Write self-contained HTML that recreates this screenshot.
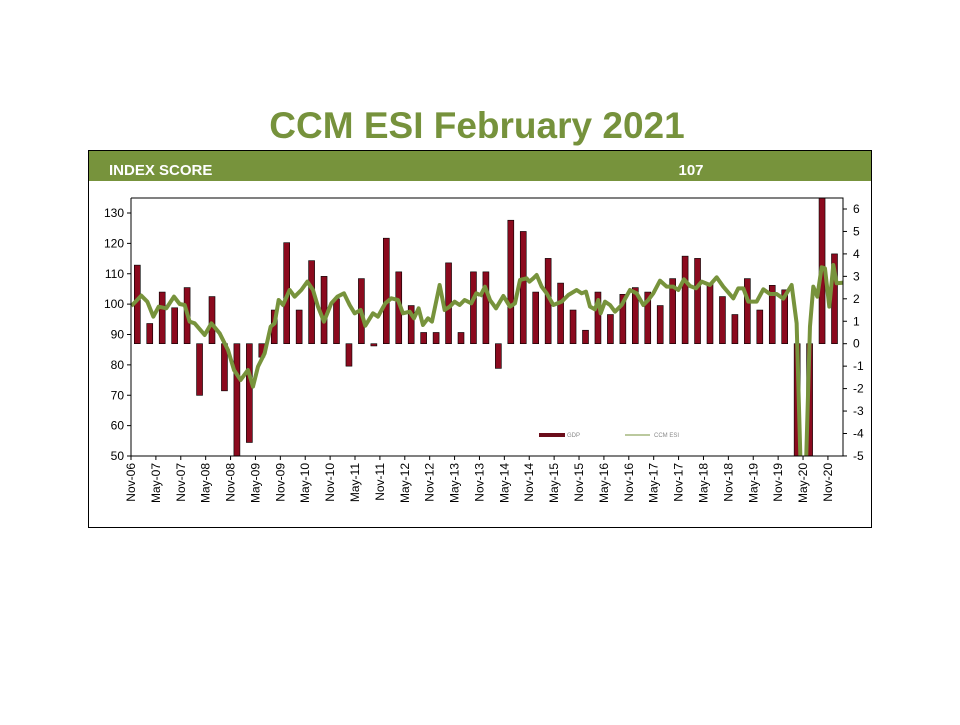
<!DOCTYPE html>
<html><head><meta charset="utf-8"><style>
body{margin:0;background:#fff;width:960px;height:720px;overflow:hidden;font-family:"Liberation Sans",sans-serif}
</style></head><body>
<svg id="s" width="960" height="720" xmlns="http://www.w3.org/2000/svg" font-family="Liberation Sans, sans-serif">
<text x="477" y="138" text-anchor="middle" font-size="37" font-weight="bold" fill="#76923c">CCM ESI February 2021</text>
<rect x="88" y="150" width="784" height="31" fill="#77933c"/>
<rect x="88.5" y="150.5" width="783" height="377" fill="none" stroke="#000" stroke-width="1"/>
<text x="109" y="175" font-size="15" font-weight="bold" fill="#fff">INDEX SCORE</text>
<text x="691" y="175" font-size="15" font-weight="bold" fill="#fff" text-anchor="middle">107</text>
<defs><clipPath id="cp"><rect x="131" y="198" width="712" height="258"/></clipPath></defs>
<g id="bars" clip-path="url(#cp)"></g>
<g clip-path="url(#cp)" fill="none" stroke="#77933c" stroke-width="4" stroke-linejoin="round">
<polyline vector-effect="non-scaling-stroke" transform="translate(88,150) scale(0.3333)" points="130,468 160,437 178,455 196,500 212,470 235,475 258,440 275,462 290,465 305,515 320,520 350,555 370,520 395,550 420,600 438,660 458,690 480,660 495,710 510,650 530,610 548,530 560,520 572,450 585,465 605,420 620,440 640,420 658,395 675,420 690,470 708,515 730,460 748,440 768,430 785,465 800,490 818,480 832,527 855,490 870,500 892,460 910,445 930,450 945,490 965,485 978,505 992,475 1005,525 1020,505 1032,515 1055,405 1070,480 1085,470 1100,455 1115,465 1130,450 1150,460 1165,430 1176,435"/>
<polyline vector-effect="non-scaling-stroke" transform="translate(480,150) scale(0.3333)" points="0,440 15,410 30,450 48,475 70,438 90,470 105,460 120,390 140,385 148,395 160,385 170,375 185,410 200,430 220,465 245,455 265,435 290,420 305,430 318,425 330,470 345,478 355,450 362,490 375,455 390,465 405,485 425,465 450,420 470,430 490,465 505,450 520,430 540,392 560,410 580,410 595,420 612,388 630,408 648,415 665,395 690,405 710,382 730,410 760,445 775,415 790,415 805,455 830,455 850,418 870,432 890,432 910,446 935,405 950,520 962,950 978,950 990,530 1000,410 1012,440 1025,352 1035,355 1048,470 1060,345 1070,400 1090,398"/>
</g>
<g id="ax" font-size="12" fill="#000"></g>
<rect x="539" y="433" width="26" height="4" fill="#6b0d1a"/>
<text x="567" y="437" font-size="6" fill="#888">GDP</text>
<line x1="625" y1="435" x2="650" y2="435" stroke="#77933c" stroke-width="1"/>
<text x="654" y="437" font-size="6" fill="#888">CCM ESI</text>
</svg>
<script>
var NS="http://www.w3.org/2000/svg";
function el(p,t,a,txt){var e=document.createElementNS(NS,t);for(var k in a)e.setAttribute(k,a[k]);if(txt!=null)e.textContent=txt;p.appendChild(e);return e;}
var g=[3.5,0.9,2.3,1.6,2.5,-2.3,2.1,-2.1,-8,-4.4,-0.6,1.5,4.5,1.5,3.7,3.0,2.0,-1.0,2.9,-0.1,4.7,3.2,1.7,0.5,0.5,3.6,0.5,3.2,3.2,-1.1,5.5,5.0,2.3,3.8,2.7,1.5,0.6,2.3,1.3,2.2,2.5,2.3,1.7,2.9,3.9,3.8,2.7,2.1,1.3,2.9,1.5,2.6,2.4,-10,-9,7.5,4.0];
var bars=document.getElementById('bars');var y0=343.7,u=22.45;
g.forEach(function(v,i){var x=137.3+i*12.45;var y=y0-v*u;el(bars,'rect',{x:x-3,y:Math.min(y,y0),width:6,height:Math.abs(v*u),fill:'#8b0a1e',stroke:'#000','stroke-width':0.6});});
var ax=document.getElementById('ax');
el(ax,'path',{d:'M131,198V456H843V198H131',fill:'none',stroke:'#000','stroke-width':1});
for(var v=50;v<=130;v+=10){var y=456-(v-50)*3.0375;el(ax,'line',{x1:127,x2:131,y1:y,y2:y,stroke:'#000'});el(ax,'text',{x:124,y:y+4,'text-anchor':'end'},v);}
for(var v=-5;v<=6;v++){var y=y0-v*u;el(ax,'line',{x1:843,x2:847,y1:y,y2:y,stroke:'#000'});el(ax,'text',{x:853,y:y+4},v);}
var yrs=[];for(var k=0;k<=28;k++){var yr=6+Math.floor((k+1)/2);var m=(k%2==0)?'Nov':'May';var lab=m+'-'+(yr<10?'0':'')+yr;var x=131+k*24.89;
el(ax,'line',{x1:x,x2:x,y1:456,y2:460,stroke:'#000'});
el(ax,'text',{x:0,y:0,'text-anchor':'end',transform:'translate('+(x+4)+',463) rotate(-90)'},lab);}
</script>
</body></html>
